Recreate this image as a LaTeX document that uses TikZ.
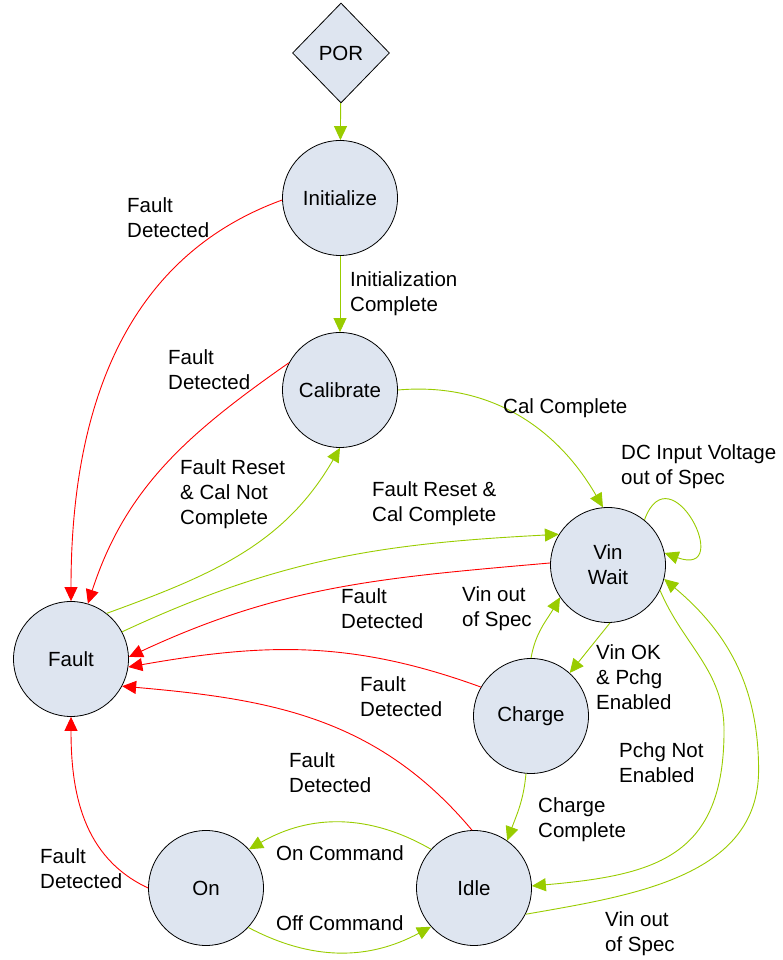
\documentclass[tikz,border=0pt]{standalone}
\usepackage{fontspec}
\setmainfont{Liberation Sans}
\usetikzlibrary{shapes.geometric, arrows.meta}
\definecolor{okgreen}{HTML}{99CC00}
\definecolor{failred}{HTML}{FF0000}
\definecolor{statefill}{HTML}{DEE5F0}

\begin{document}
\begin{tikzpicture}
		[x=1pt, y=1pt,
		every node/.style={font=\fontsize{20.5}{25}\selectfont},
		state/.style={circle, draw, fill=statefill, line width=0.8pt, minimum size=115pt, inner sep=0pt, align=center},
		lbl/.style={anchor=west, inner sep=0pt, align=left},
		go/.style={draw=okgreen, line width=0.9pt, -{Triangle[length=14pt, width=13pt]}},
		fail/.style={draw=failred, line width=0.9pt, -{Triangle[length=14pt, width=13pt]}}]
		\useasboundingbox (0, 0) rectangle (783, 960);
		\node[diamond, draw, fill=statefill, line width=0.8pt, minimum width=97pt, minimum height=100pt, inner sep=0pt] (por) at (341, 907) {POR};
		\node[state] (init) at (340, 762) {Initialize};
		\node[state] (cal) at (340, 570) {Calibrate};
		\node[state] (vin) at (608, 395) {Vin\\Wait};
		\node[state] (fault) at (71, 301) {Fault};
		\node[state] (chg) at (531, 244) {Charge};
		\node[state] (idle) at (474, 72) {Idle};
		\node[state] (on) at (206, 72) {On};

		\draw[go] (por) -- (init);
		\draw[go] (init) -- (cal);
		\draw[fail] (init.182) to[out=200, in=90] (fault.north);
		\draw[fail] (cal.152) to[out=215, in=72] (fault.73);
		\draw[go] (fault.52) to[out=20, in=240] (cal.south);
		\draw[go] (fault.28) to[out=25, in=183] (vin.148);
		\draw[fail] (vin.178) to[out=185, in=25] (fault.2);
		\draw[fail] (chg.150) to[out=160, in=10] (fault.-8);
		\draw[fail] (idle.92) to[out=130, in=-5] (fault.-28);
		\draw[fail] (on.west) to[out=155, in=270] (fault.south);
		\draw[go] (cal.east) to[out=5, in=120] (vin.95);
		\draw[go] (vin.51) to[out=70, in=-20, looseness=5] (vin.12);
		\draw[go] (chg.north) to[out=80, in=240] (vin.214);
		\draw[go] (vin.272) -- (chg.48);
		\draw[go] (chg.265) to[out=265, in=70] (idle.55);
		\draw[go] (vin.-26) to[out=-67, in=90] ++(64, -140) to[out=-90, in=5, looseness=1.3] (idle.2);
		\draw[go] (idle.-27) to[out=10, in=-90] ++(233, 144) to[out=90, in=-40] (vin.-14);
		\draw[go] (idle.138) to[bend right=30] (on.42);
		\draw[go] (on.-43) to[bend right=28] (idle.222);

		\node[lbl] (l-init-fault) at (127, 742) {Fault\\Detected};
		\node[lbl] (l-init-cal) at (350, 666) {Initialization\\Complete};
		\node[lbl] (l-cal-fault) at (168, 590) {Fault\\Detected};
		\node[lbl] (l-cal-vin) at (503, 552) {Cal Complete};
		\node[lbl] (l-vin-vin) at (621, 493) {DC Input Voltage\\out of Spec};
		\node[lbl] (l-fault-cal) at (180, 466) {Fault Reset\\\& Cal Not\\Complete};
		\node[lbl] (l-fault-vin) at (372, 456) {Fault Reset \&\\Cal Complete};
		\node[lbl] (l-vin-fault) at (341, 351) {Fault\\Detected};
		\node[lbl] (l-chg-vin) at (462, 351) {Vin out\\of Spec};
		\node[lbl] (l-vin-chg) at (596, 283) {Vin OK\\\& Pchg\\Enabled};
		\node[lbl] (l-chg-fault) at (360, 263) {Fault\\Detected};
		\node[lbl] (l-vin-idle) at (619, 197) {Pchg Not\\Enabled};
		\node[lbl] (l-idle-fault) at (289, 187) {Fault\\Detected};
		\node[lbl] (l-chg-idle) at (538, 140) {Charge\\Complete};
		\node[lbl] (l-idle-on) at (276, 107) {On Command};
		\node[lbl] (l-on-fault) at (40, 91) {Fault\\Detected};
		\node[lbl] (l-on-idle) at (276, 37) {Off Command};
		\node[lbl] (l-idle-vin) at (605, 26) {Vin out\\of Spec};
\end{tikzpicture}
\end{document}
